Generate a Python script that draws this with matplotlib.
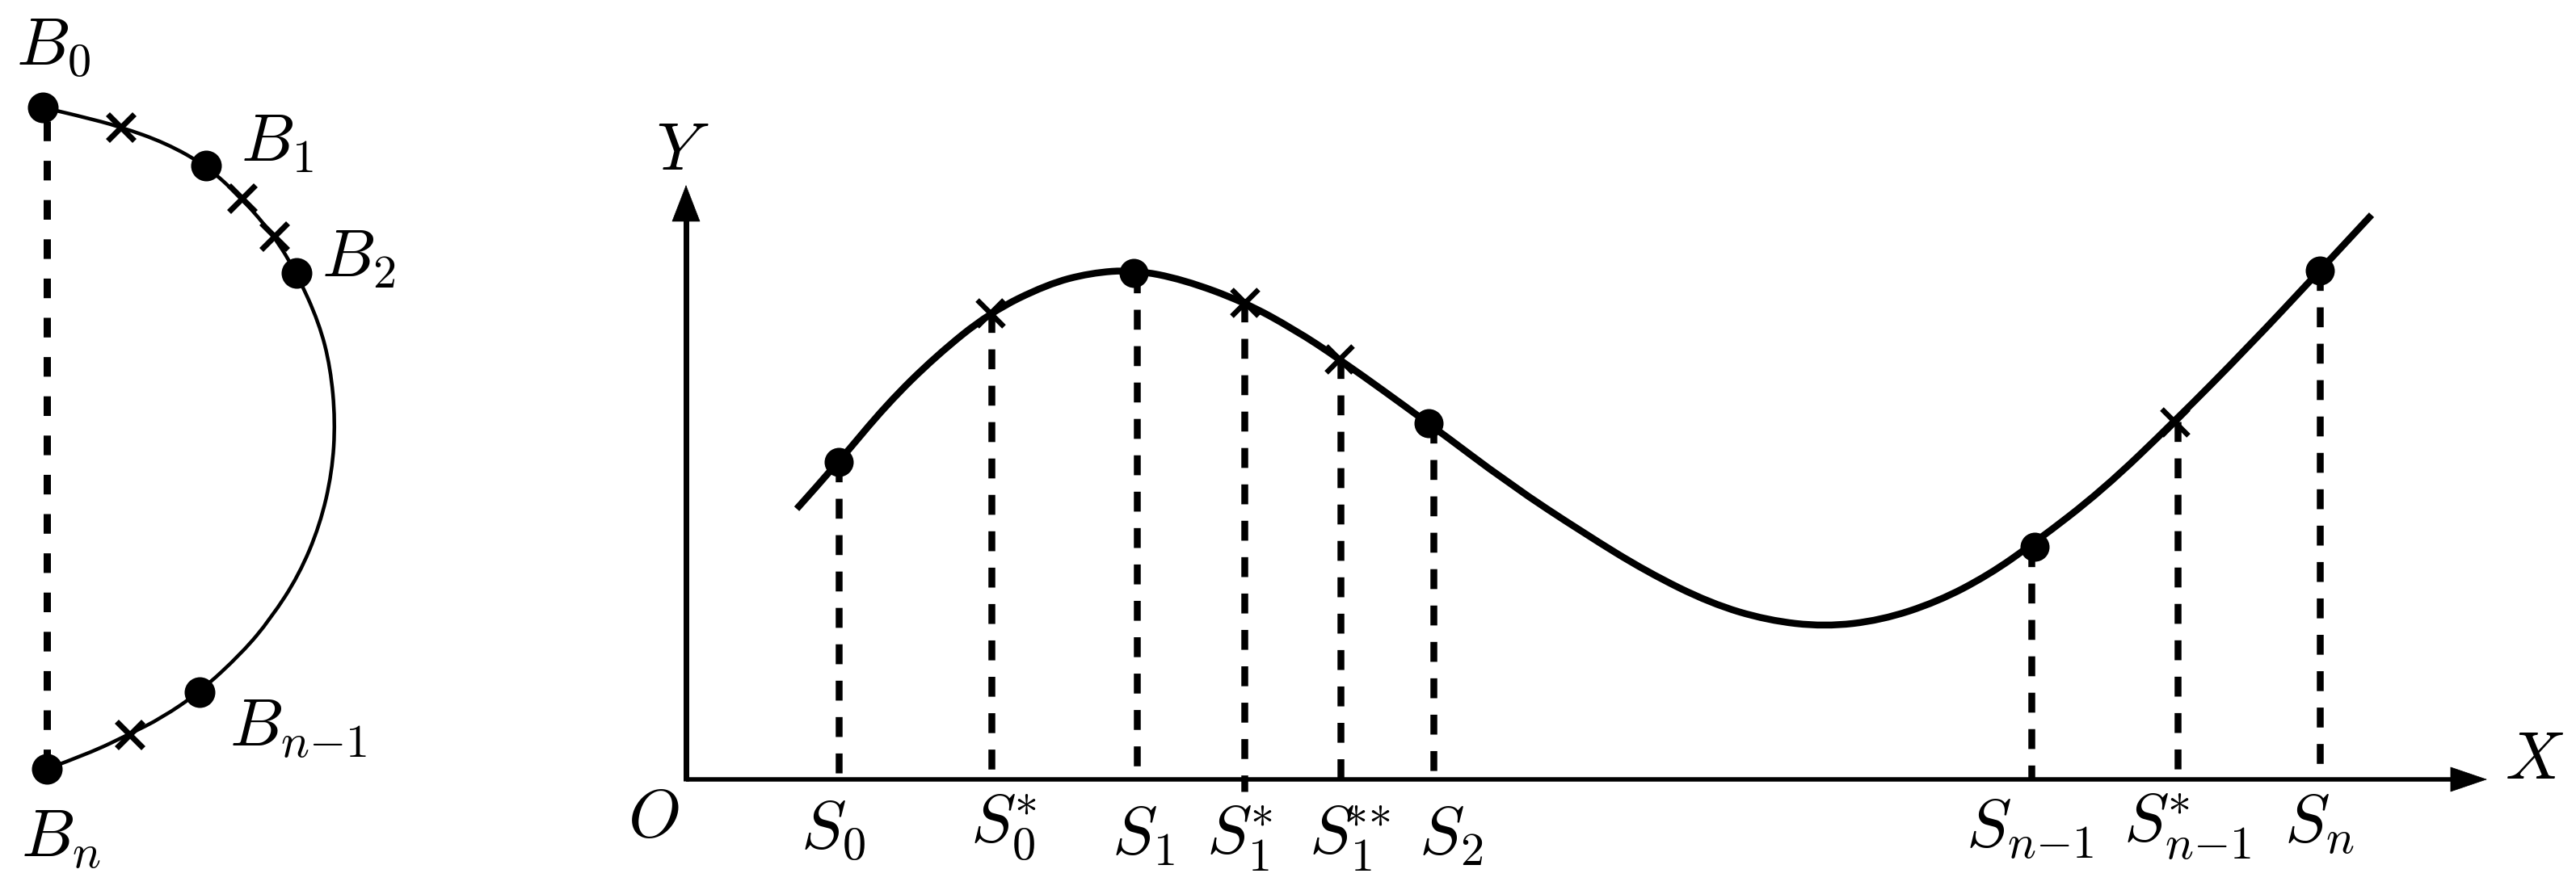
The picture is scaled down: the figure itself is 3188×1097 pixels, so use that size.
import matplotlib
matplotlib.use('Agg')
import matplotlib.pyplot as plt
from matplotlib.path import Path
from matplotlib.patches import PathPatch

plt.rcParams['mathtext.fontset'] = 'cm'

# left arc (pixel coords)
arc_x = [53, 100, 149, 205, 255, 299, 339, 367, 395, 409, 415, 411, 396, 370, 335, 300, 247, 200, 160, 110, 58]
arc_y = [133, 144, 157, 177, 205, 245, 292, 338, 400, 455, 521, 585, 650, 712, 766, 808, 857, 889, 909, 933, 952]
arc_dots_x = [53, 255, 367, 247, 58]
arc_dots_y = [133, 205, 338, 857, 952]
arc_cross_x = [149, 299, 339, 160]
arc_cross_y = [157, 245, 292, 909]
arc_labels = [r'$B_0$', r'$B_1$', r'$B_2$', r'$B_{n{-}1}$', r'$B_n$']
arc_label_x = [20, 298, 398, 284, 26]
arc_label_y = [80, 200, 343, 924, 1061]
chord_x = [58, 58]
chord_y = [150, 945]

# main curve
curve_x = [986, 1038, 1097, 1158, 1225, 1296, 1349, 1403, 1464, 1540, 1602, 1657, 1768, 1869, 1960, 2038, 2117,
           2187, 2258, 2328, 2398, 2461, 2518, 2602, 2691, 2782, 2871, 2935]
curve_y = [630, 572, 501, 441, 387, 352, 338, 334, 346, 374, 408, 444, 524, 600, 660, 708, 747,
           768, 776, 768, 745, 712, 672, 607, 522, 430, 335, 266]

dots_x = [1038, 1403, 1768, 2518, 2871]
dots_y = [572, 338, 524, 677, 335]
cross_x = [1225, 1540, 1657, 2691]
cross_y = [387, 374, 444, 522]

# dashed drop lines
drop_x = [1038, 1227, 1407, 1540, 1659, 1774, 2514, 2695, 2871]
drop_top = [572, 387, 338, 374, 444, 524, 677, 522, 335]
drop_bottom = [965, 965, 965, 980, 965, 965, 965, 965, 965]

s_labels = [r'$S_0$', r'$S_0^{\!\!*}$', r'$S_1$', r'$S_1^{\!\!*}$', r'$S_1^{\!\!{*}{*}}$', r'$S_2$',
            r'$S_{n{-}1}$', r'$S_{n{-}1}^{\!\!*}$', r'$S_n$']
s_label_x = [991, 1201, 1376, 1493, 1620, 1756, 2433, 2628, 2827]
s_label_y = [1050, 1043, 1058, 1058, 1058, 1058, 1049, 1043, 1043]

axis_labels = [r'$Y$', r'$O$', r'$X$']
axis_label_x = [812, 777, 3100]
axis_label_y = [210, 1036, 964]

origin = (849, 965)
x_tip = 3078
y_tip = 229

PX = 72 / 100  # one pixel in points


def smooth(x, y, lw):
    # quadratic segments between knot midpoints
    verts = [(x[0], y[0])]
    codes = [Path.MOVETO]
    for i in range(1, len(x) - 1):
        verts.append((x[i], y[i]))
        if i < len(x) - 2:
            verts.append(((x[i] + x[i + 1]) / 2, (y[i] + y[i + 1]) / 2))
        else:
            verts.append((x[i + 1], y[i + 1]))
        codes += [Path.CURVE3, Path.CURVE3]
    ax.add_patch(PathPatch(Path(verts, codes), fc='none', ec='black', lw=lw * PX, capstyle='butt'))


fig = plt.figure(figsize=(31.88, 10.97), dpi=100)
ax = fig.add_axes([0, 0, 1, 1])
ax.set_xlim(0, 3188)
ax.set_ylim(1097, 0)
ax.axis('off')

# left part
smooth(arc_x, arc_y, 4.5)
ax.plot(chord_x, chord_y, color='black', lw=9 * PX, dashes=(2.7, 2.7), dash_capstyle='butt')
ax.plot(arc_dots_x, arc_dots_y, 'o', color='black', ms=38 * PX, mew=0)
ax.plot(arc_cross_x, arc_cross_y, 'x', color='black', ms=33 * PX, mew=7 * PX)
for lab, x, y in zip(arc_labels, arc_label_x, arc_label_y):
    ax.text(x, y, lab, fontsize=60, ha='left', va='baseline')

# axes with arrows
ax.plot([origin[0], x_tip - 30], [origin[1], origin[1]], color='black', lw=5.5 * PX, solid_capstyle='butt')
ax.plot([origin[0], origin[0]], [origin[1] + 2, y_tip + 30], color='black', lw=7 * PX, solid_capstyle='butt')
ax.annotate('', xy=(x_tip, origin[1]), xytext=(x_tip - 44, origin[1]),
            arrowprops=dict(arrowstyle='-|>,head_length=%f,head_width=%f' % (44 * PX, 15 * PX), mutation_scale=1,
                            color='black', lw=0.5, shrinkA=0, shrinkB=0))
ax.annotate('', xy=(origin[0], y_tip), xytext=(origin[0], y_tip + 44),
            arrowprops=dict(arrowstyle='-|>,head_length=%f,head_width=%f' % (44 * PX, 17 * PX), mutation_scale=1,
                            color='black', lw=0.5, shrinkA=0, shrinkB=0))

# drop lines
for x, top, bottom in zip(drop_x, drop_top, drop_bottom):
    ax.plot([x, x], [top, bottom], color='black', lw=8.5 * PX, dashes=(2.9, 2.4), dash_capstyle='butt')

# curve and marks
smooth(curve_x, curve_y, 8.5)
ax.plot(dots_x, dots_y, 'o', color='black', ms=36 * PX, mew=0)
ax.plot(cross_x, cross_y, 'x', color='black', ms=33 * PX, mew=6.5 * PX)

for lab, x, y in zip(s_labels, s_label_x, s_label_y):
    ax.text(x, y, lab, fontsize=60, ha='left', va='baseline')
for lab, x, y in zip(axis_labels, axis_label_x, axis_label_y):
    ax.text(x, y, lab, fontsize=60, ha='left', va='baseline')

fig.savefig('out.png', dpi=100, facecolor='white')
